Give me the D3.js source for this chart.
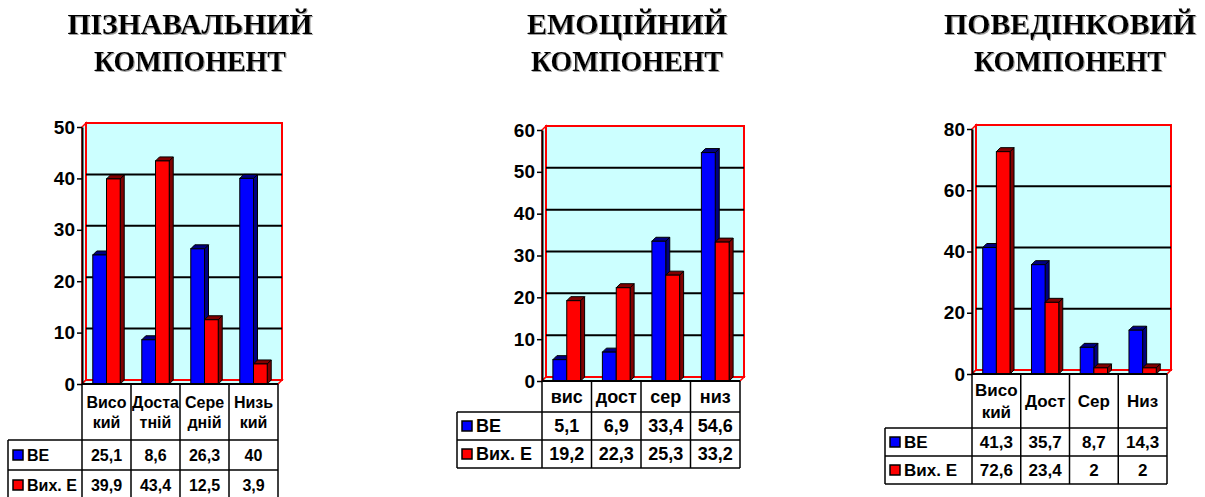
<!DOCTYPE html>
<html>
<head>
<meta charset="utf-8">
<script src="https://cdn.jsdelivr.net/npm/d3@7"></script>
<style>
  body { margin: 0; background: #fff; }
  svg { display: block; }
</style>
</head>
<body>
<div id="chart"></div>
<script>
// Series shared by all three panels
const seriesNames = ['ВЕ', 'Вих. Е'];
const seriesColors = ['#0000ff', '#ff0000'];
const seriesDark = ['#000080', '#800000'];

// Пізнавальний компонент
const cogTitle = ['ПІЗНАВАЛЬНИЙ', 'КОМПОНЕНТ'];
const cogCategories = [['Висо', 'кий'], ['Доста', 'тній'], ['Сере', 'дній'], ['Низь', 'кий']];
const cogVE = [25.1, 8.6, 26.3, 40];
const cogVixE = [39.9, 43.4, 12.5, 3.9];
const cogTicks = [0, 10, 20, 30, 40, 50];

// Емоційний компонент
const emoTitle = ['ЕМОЦІЙНИЙ', 'КОМПОНЕНТ'];
const emoCategories = [['вис'], ['дост'], ['сер'], ['низ']];
const emoVE = [5.1, 6.9, 33.4, 54.6];
const emoVixE = [19.2, 22.3, 25.3, 33.2];
const emoTicks = [0, 10, 20, 30, 40, 50, 60];

// Поведінковий компонент
const behTitle = ['ПОВЕДІНКОВИЙ', 'КОМПОНЕНТ'];
const behCategories = [['Висо', 'кий'], ['Дост'], ['Сер'], ['Низ']];
const behVE = [41.3, 35.7, 8.7, 14.3];
const behVixE = [72.6, 23.4, 2, 2];
const behTicks = [0, 20, 40, 60, 80];

const width = 1205, height = 497;
const depth = 4;
const sans = 'Liberation Sans, Arial, sans-serif';
const serif = 'Liberation Serif, Times New Roman, serif';

const svg = d3.select('#chart').append('svg')
  .attr('width', width)
  .attr('height', height);

// faint shadow under the titles
svg.append('defs').append('filter')
  .attr('id', 'shadow')
  .append('feDropShadow')
  .attr('dx', 1).attr('dy', 1)
  .attr('stdDeviation', 0.3)
  .attr('flood-color', '#a0a0a0');

// layout of each panel (titleW = width of each title line)
const panels = [
  { title: cogTitle, titleW: [245, 192], cats: cogCategories, values: [cogVE, cogVixE], ticks: cogTicks,
    tx: 190, x0: 82, y0: 384, w: 196, yTop: 127, legendX: 8, headerH: 56, rowH: 30, fs: 16 },
  { title: emoTitle, titleW: [200, 192], cats: emoCategories, values: [emoVE, emoVixE], ticks: emoTicks,
    tx: 627, x0: 542, y0: 381, w: 198, yTop: 130, legendX: 457, headerH: 31, rowH: 28, fs: 18 },
  { title: behTitle, titleW: [252, 192], cats: behCategories, values: [behVE, behVixE], ticks: behTicks,
    tx: 1070, x0: 972, y0: 374, w: 195, yTop: 129, legendX: 885, headerH: 54, rowH: 28, fs: 17 }
];

const fmt = v => String(v).replace('.', ',');
const pts = arr => arr.map(p => p.join(',')).join(' ');

function drawPanel(p) {
  const g = svg.append('g');
  const max = p.ticks[p.ticks.length - 1];

  const x = d3.scaleBand()
    .domain(d3.range(p.cats.length))
    .range([p.x0, p.x0 + p.w]);
  const cat = x.bandwidth();
  const xs = d3.scaleBand()
    .domain(seriesNames)
    .range([cat * 0.22, cat * 0.78]);
  const y = d3.scaleLinear()
    .domain([0, max])
    .range([p.y0, p.yTop]);

  // title
  p.title.forEach((line, i) => {
    g.append('text')
      .attr('x', p.tx)
      .attr('y', 34 + i * 37)
      .attr('text-anchor', 'middle')
      .attr('textLength', p.titleW[i])
      .attr('lengthAdjust', 'spacingAndGlyphs')
      .attr('filter', 'url(#shadow)')
      .style('font', `bold 30px ${serif}`)
      .attr('fill', '#000')
      .text(line);
  });

  // walls and floor
  const top = y(max);
  g.append('polygon')
    .attr('points', pts([[p.x0, p.y0], [p.x0 + depth, p.y0 - depth], [p.x0 + depth, top - depth], [p.x0, top]]))
    .attr('fill', '#ccffff').attr('stroke', '#ff0000').attr('stroke-width', 1.5);
  g.append('polygon')
    .attr('points', pts([[p.x0, p.y0], [p.x0 + p.w, p.y0], [p.x0 + p.w + depth, p.y0 - depth], [p.x0 + depth, p.y0 - depth]]))
    .attr('fill', '#ccffff').attr('stroke', '#ff0000').attr('stroke-width', 1.5);
  g.append('rect')
    .attr('x', p.x0 + depth)
    .attr('y', top - depth)
    .attr('width', p.w)
    .attr('height', p.y0 - top)
    .attr('fill', '#ccffff')
    .attr('stroke', '#ff0000')
    .attr('stroke-width', 2);

  // gridlines on the back wall
  g.selectAll('.grid')
    .data(p.ticks.filter(t => t > 0 && t < max))
    .enter().append('line')
    .attr('x1', p.x0 + depth)
    .attr('x2', p.x0 + p.w + depth)
    .attr('y1', d => y(d) - depth)
    .attr('y2', d => y(d) - depth)
    .attr('stroke', '#000')
    .attr('stroke-width', 2);

  // 3d bars
  p.cats.forEach((c, i) => {
    seriesNames.forEach((s, k) => {
      const v = p.values[k][i];
      const bx = x(i) + xs(s), bw = xs.bandwidth(), by = y(v);
      g.append('polygon')
        .attr('points', pts([[bx + bw, by], [bx + bw + depth, by - depth], [bx + bw + depth, p.y0 - depth], [bx + bw, p.y0]]))
        .attr('fill', seriesDark[k]).attr('stroke', '#000').attr('stroke-width', 1);
      g.append('polygon')
        .attr('points', pts([[bx, by], [bx + depth, by - depth], [bx + bw + depth, by - depth], [bx + bw, by]]))
        .attr('fill', seriesDark[k]).attr('stroke', '#000').attr('stroke-width', 1);
      g.append('rect')
        .attr('x', bx).attr('y', by)
        .attr('width', bw).attr('height', p.y0 - by)
        .attr('fill', seriesColors[k]).attr('stroke', '#000').attr('stroke-width', 1);
    });
  });

  // value axis
  const ax = g.append('g')
    .attr('transform', `translate(${p.x0},0)`)
    .call(d3.axisLeft(y).tickValues(p.ticks).tickSize(5).tickSizeOuter(0).tickPadding(2));
  ax.select('.domain').attr('stroke-width', 2);
  ax.selectAll('.tick line').attr('stroke-width', 1.5);
  ax.selectAll('text').style('font', `bold 19px ${sans}`).attr('fill', '#000');

  g.append('line')
    .attr('x1', p.x0).attr('x2', p.x0 + p.w)
    .attr('y1', p.y0).attr('y2', p.y0)
    .attr('stroke', '#000').attr('stroke-width', 2);

  // data table
  const t = g.append('g')
    .attr('stroke', '#000')
    .attr('stroke-width', 1.5);
  const yH = p.y0 + p.headerH;
  const yB = yH + p.rowH * 2;
  const bounds = d3.range(p.cats.length + 1).map(k => p.x0 + k * cat);
  t.selectAll('.v')
    .data(bounds)
    .enter().append('line')
    .attr('x1', d => d).attr('x2', d => d)
    .attr('y1', p.y0).attr('y2', yB);
  t.append('line')
    .attr('x1', p.legendX).attr('x2', p.legendX)
    .attr('y1', yH).attr('y2', yB);
  [yH, yH + p.rowH, yB].forEach(yy => {
    t.append('line')
      .attr('x1', p.legendX).attr('x2', p.x0 + p.w)
      .attr('y1', yy).attr('y2', yy);
  });

  // header cells
  const lh = p.fs * 1.25;
  p.cats.forEach((c, i) => {
    const cy = p.y0 + p.headerH / 2 - (c.length - 1) * lh / 2;
    g.append('text')
      .attr('text-anchor', 'middle')
      .attr('dominant-baseline', 'central')
      .style('font', `bold ${p.fs}px ${sans}`)
      .selectAll('tspan')
      .data(c)
      .enter().append('tspan')
      .attr('x', x(i) + cat / 2)
      .attr('y', (d, j) => cy + j * lh)
      .text(d => d);
  });

  // series rows
  seriesNames.forEach((s, k) => {
    const cy = yH + p.rowH * k + p.rowH / 2;
    g.append('rect')
      .attr('x', p.legendX + 5).attr('y', cy - 5)
      .attr('width', 10).attr('height', 10)
      .attr('fill', seriesColors[k])
      .attr('stroke', '#000').attr('stroke-width', 1.5);
    g.append('text')
      .attr('x', p.legendX + 19).attr('y', cy)
      .attr('dominant-baseline', 'central')
      .style('font', `bold ${p.fs}px ${sans}`)
      .text(s);
    g.selectAll(null)
      .data(p.values[k])
      .enter().append('text')
      .attr('x', (d, i) => x(i) + cat / 2)
      .attr('y', cy)
      .attr('text-anchor', 'middle')
      .attr('dominant-baseline', 'central')
      .style('font', `bold ${p.fs}px ${sans}`)
      .text(fmt);
  });
}

panels.forEach(drawPanel);
</script>
</body>
</html>
